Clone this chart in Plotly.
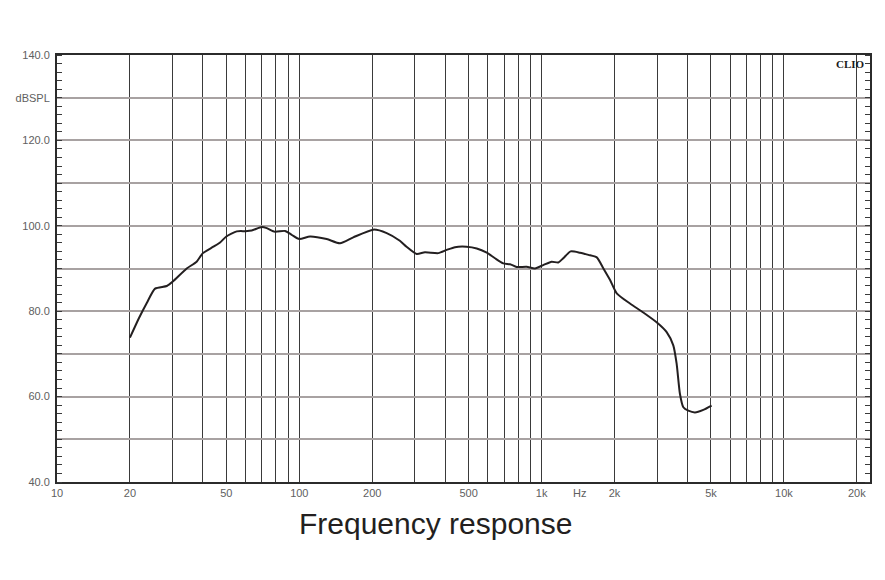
import numpy as np
import plotly.graph_objects as go

# Frequency response data (Hz, dB SPL)
freq_hz = [20, 21.8, 23.5, 25.4, 28.4, 30, 34.3, 37.7, 40, 44.2, 47.1, 50, 55.2, 60, 63.6,
           70, 73.4, 79.4, 87.3, 93, 100, 110.7, 129.7, 147.2, 167, 202, 229.5, 260,
           277, 305, 330, 375, 406, 439, 490, 540, 594, 642, 695, 741, 789, 867, 939,
           1016, 1100, 1172, 1228, 1318, 1440, 1560, 1689, 1799, 1917, 2042, 2316, 2628,
           3000, 3282, 3495, 3608, 3724, 3845, 4032, 4295, 4650, 5030]
spl_db = [73.8, 78.4, 82.0, 85.3, 85.9, 86.9, 90.0, 91.6, 93.6, 95.1, 96.1, 97.5, 98.7, 98.75, 98.9,
          99.7, 99.45, 98.6, 98.8, 97.9, 96.9, 97.5, 96.9, 95.9, 97.3, 99.1, 98.3, 96.5,
          95.1, 93.4, 93.8, 93.6, 94.35, 95.0, 95.1, 94.7, 93.7, 92.4, 91.2, 91.0, 90.35, 90.4, 90.0,
          90.8, 91.6, 91.4, 92.4, 94.0, 93.7, 93.2, 92.6, 90.0, 87.3, 84.2, 81.8, 79.7,
          77.3, 75.1, 72.0, 67.7, 60.6, 57.5, 56.7, 56.3, 56.9, 57.9]

# Axis grid / ticks
x_grid = [10, 20, 30, 40, 50, 60, 70, 80, 90, 100, 200, 300, 400, 500, 600, 700, 800, 900,
          1000, 2000, 3000, 4000, 5000, 6000, 7000, 8000, 9000, 10000, 20000]
x_labels = {10: "10", 20: "20", 50: "50", 100: "100", 200: "200", 500: "500", 1000: "1k",
            2000: "2k", 5000: "5k", 10000: "10k", 20000: "20k"}
y_grid = [40, 50, 60, 70, 80, 90, 100, 110, 120, 130, 140]
y_labels = {40: "40.0", 60: "60.0", 80: "80.0", 100: "100.0", 120: "120.0", 130: "dBSPL", 140: "140.0"}

title_text = "Frequency response"

fig = go.Figure()
fig.add_trace(go.Scatter(x=freq_hz, y=spl_db, mode="lines",
                         line=dict(color="#231f20", width=2, shape="spline", smoothing=0.6),
                         hoverinfo="skip", showlegend=False))
# invisible trace to display right axis
fig.add_trace(go.Scatter(x=[freq_hz[0]], y=[spl_db[0]], yaxis="y2", mode="markers",
                         marker=dict(opacity=0), hoverinfo="skip", showlegend=False))

tick_font = dict(family="Liberation Sans, Arial, sans-serif", size=11, color="#606060")

fig.update_layout(
    width=869, height=564,
    margin=dict(l=49, r=7, t=47, b=90, autoexpand=False),
    paper_bgcolor="white", plot_bgcolor="white",
    xaxis=dict(type="log", range=[1, 4.3553], automargin=False,
               tickmode="array", tickvals=x_grid,
               ticktext=[x_labels.get(v, "") for v in x_grid],
               showgrid=True, gridcolor="#3a3a3a", gridwidth=1,
               ticks="", tickfont=tick_font,
               showline=True, linecolor="#2b2b2b", linewidth=2, mirror=True,
               zeroline=False),
    yaxis=dict(range=[40, 140], tickmode="array", tickvals=y_grid, automargin=False,
               ticktext=[y_labels.get(v, "") for v in y_grid],
               showgrid=True, gridcolor="#a8a2a2", gridwidth=1.5,
               ticks="", tickfont=tick_font, ticklabelstandoff=3,
               showline=True, linecolor="#2b2b2b", linewidth=2, mirror=True,
               zeroline=False,
               minor=dict(ticks="inside", tickmode="linear", tick0=40, dtick=2,
                          ticklen=5, tickcolor="#3a3a3a", tickwidth=1, showgrid=False)),
    yaxis2=dict(range=[40, 140], overlaying="y", side="right", anchor="x", automargin=False,
                showgrid=False, showticklabels=False, ticks="", zeroline=False,
                tickmode="array", tickvals=y_grid,
                minor=dict(ticks="inside", tickmode="linear", tick0=40, dtick=2,
                           ticklen=5, tickcolor="#3a3a3a", tickwidth=1, showgrid=False)),
    annotations=[
        dict(text="Hz", x=np.log10(1440), y=0, xref="x", yref="paper",
             yanchor="top", yshift=-3, showarrow=False, font=tick_font),
        dict(text="<b>CLIO</b>", x=1, y=1, xref="paper", yref="paper",
             xanchor="right", yanchor="top", xshift=-3, yshift=-1, showarrow=False,
             font=dict(family="Liberation Serif, Times New Roman, serif", size=11, color="#1a1a1a")),
        dict(text=title_text, x=0.466, y=0, xref="paper", yref="paper",
             xanchor="center", yanchor="top", yshift=-23, showarrow=False,
             font=dict(family="Liberation Sans, Arial, sans-serif", size=30, color="#231f20")),
    ],
)

fig.write_html("out.html")
